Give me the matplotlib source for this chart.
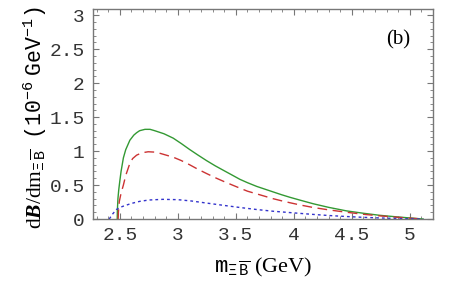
import matplotlib
matplotlib.use('Agg')
import matplotlib.pyplot as plt
from matplotlib.ticker import MultipleLocator

# curves
m_green = [2.477, 2.478, 2.483, 2.49, 2.5, 2.51, 2.53, 2.55, 2.586, 2.62, 2.644, 2.67,
           2.716, 2.76, 2.80, 2.88, 2.96, 3.03, 3.1, 3.17, 3.247, 3.32, 3.4, 3.47,
           3.534, 3.6, 3.68, 3.75, 3.82, 3.89, 3.966, 4.06, 4.167, 4.3, 4.454, 4.6,
           4.74, 4.9, 5.03, 5.115]
b_green = [0, 0.12, 0.3, 0.43, 0.57, 0.7, 0.9, 1.02, 1.16, 1.235, 1.27, 1.30,
           1.32, 1.32, 1.30, 1.255, 1.19, 1.11, 1.025, 0.945, 0.86, 0.785, 0.71, 0.645,
           0.585, 0.535, 0.48, 0.44, 0.40, 0.36, 0.32, 0.275, 0.225, 0.172, 0.12, 0.085,
           0.055, 0.03, 0.012, 0]

m_red = [2.485, 2.487, 2.495, 2.51, 2.53, 2.55, 2.586, 2.61, 2.644, 2.69, 2.744, 2.80,
         2.85, 2.9, 2.96, 3.03, 3.1, 3.17, 3.247, 3.32, 3.4, 3.47, 3.534, 3.6, 3.68,
         3.75, 3.82, 3.89, 3.966, 4.06, 4.167, 4.3, 4.454, 4.6, 4.74, 4.9, 5.03, 5.115]
b_red = [0, 0.1, 0.26, 0.38, 0.5, 0.64, 0.82, 0.89, 0.94, 0.975, 0.99, 0.985,
         0.965, 0.94, 0.91, 0.86, 0.80, 0.735, 0.67, 0.61, 0.55, 0.50, 0.455, 0.41, 0.37,
         0.335, 0.30, 0.27, 0.24, 0.205, 0.17, 0.135, 0.10, 0.07, 0.047, 0.025, 0.01, 0]

m_blue = [2.408, 2.44, 2.47, 2.5, 2.53, 2.6, 2.67, 2.75, 2.87, 3.0, 3.12, 3.247,
          3.4, 3.534, 3.68, 3.82, 3.966, 4.167, 4.3, 4.454, 4.6, 4.74, 4.9, 5.03, 5.115]
b_blue = [0, 0.08, 0.14, 0.17, 0.19, 0.23, 0.26, 0.28, 0.29, 0.285, 0.265, 0.235,
          0.2, 0.17, 0.14, 0.115, 0.095, 0.068, 0.052, 0.037, 0.025, 0.016, 0.008, 0.003, 0]

x_ticks = [2.5, 3, 3.5, 4, 4.5, 5]
x_labels = ['2.5', '3', '3.5', '4', '4.5', '5']
y_ticks = [0, 0.5, 1, 1.5, 2, 2.5, 3]
y_labels = ['0', '0.5', '1', '1.5', '2', '2.5', '3']

plt.rcParams['mathtext.fontset'] = 'custom'
plt.rcParams['mathtext.rm'] = 'Liberation Mono'
plt.rcParams['mathtext.sf'] = 'Liberation Serif'
plt.rcParams['mathtext.it'] = 'Liberation Serif:italic:bold'

fig = plt.figure(figsize=(4.57, 2.83), dpi=100)
ax = fig.add_axes([0.2035, 0.226, 0.744, 0.742])

ax.plot(m_green, b_green, color='#339933', lw=1.0)
ax.plot(m_red, b_red, color='#cc3333', lw=1.0, dashes=(7, 4))
ax.plot(m_blue, b_blue, color='#3333cc', lw=1.0, dashes=(2, 2.2))

ax.set_xlim(2.268, 5.2)
ax.set_ylim(0, 3.09)

ax.set_xticks(x_ticks)
ax.set_xticklabels(x_labels)
ax.set_yticks(y_ticks)
ax.set_yticklabels(y_labels)
ax.xaxis.set_minor_locator(MultipleLocator(0.1))
ax.yaxis.set_minor_locator(MultipleLocator(0.1))

for lab in ax.get_xticklabels() + ax.get_yticklabels():
    lab.set_family('Liberation Mono')
    lab.set_fontsize(14)
    lab.set_color('#333333')

ax.tick_params(which='both', direction='in', top=True, right=True, color='#777777')
ax.tick_params(which='major', length=4, width=0.8, pad=6)
ax.tick_params(which='minor', length=2, width=0.6)
for sp in ax.spines.values():
    sp.set_color('#777777')
    sp.set_linewidth(1.0)

ax.set_xlabel(r'$\mathrm{m}_{\Xi\,\overline{\mathrm{B}}}\ \mathsf{(GeV)}$', fontsize=16)
ax.xaxis.set_label_coords(0.5, -0.175)
ax.set_ylabel(r'$\mathsf{d}\mathit{B}\mathsf{/dm}_{\Xi\,\overline{\mathrm{B}}}\ \ \mathrm{(10^{-6}\ GeV^{-1})}$',
              fontsize=15.5)
ax.yaxis.set_label_coords(-0.13, 0.48)

ax.text(0.897, 0.852, '(b)', transform=ax.transAxes, fontsize=15,
        family='Liberation Serif', ha='center', va='center')

fig.savefig('out.png', dpi=100)
